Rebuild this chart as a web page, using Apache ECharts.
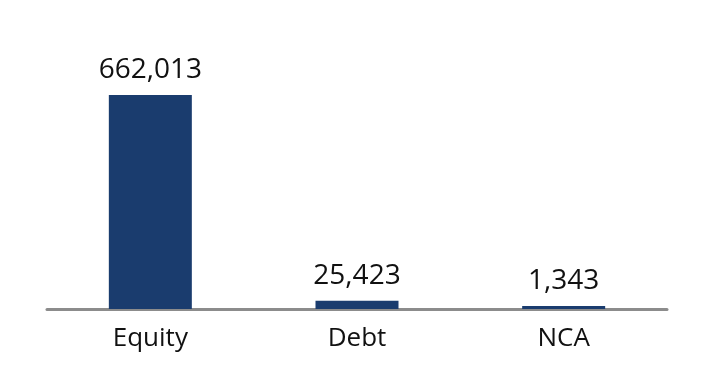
<!DOCTYPE html>
<html>
<head>
<meta charset="utf-8">
<script src="https://cdn.jsdelivr.net/npm/echarts@6/dist/echarts.min.js"></script>
<style>html,body{margin:0;padding:0;background:#fff}#c{width:724px;height:392px}</style>
</head>
<body>
<div id="c"></div>
<script>
const categories = ["Equity", "Debt", "NCA"];
const values = [662013, 25423, 1343];

const chart = echarts.init(document.getElementById('c'), null, {renderer: 'canvas'});
chart.setOption({
  animation: false,
  backgroundColor: '#ffffff',
  grid: {left: 47, right: 57, top: 95, bottom: 83, containLabel: false},
  xAxis: {
    type: 'category',
    data: categories,
    axisLine: {show: true, lineStyle: {color: '#8c8c8c', width: 3}},
    axisTick: {show: false},
    axisLabel: {color: '#111111', fontSize: 26, fontFamily: 'Open Sans', margin: 17}
  },
  yAxis: {
    type: 'value', min: 0, max: 662013, show: false,
    splitLine: {show: false}
  },
  series: [{
    type: 'bar',
    data: values,
    barWidth: 83,
    barMinHeight: 3,
    itemStyle: {color: '#1a3c6e'},
    label: {
      show: true, position: 'top', distance: 11,
      color: '#111111', fontSize: 28, fontFamily: 'Open Sans',
      formatter: p => p.value.toLocaleString('en-US')
    }
  }]
});
</script>
</body>
</html>
